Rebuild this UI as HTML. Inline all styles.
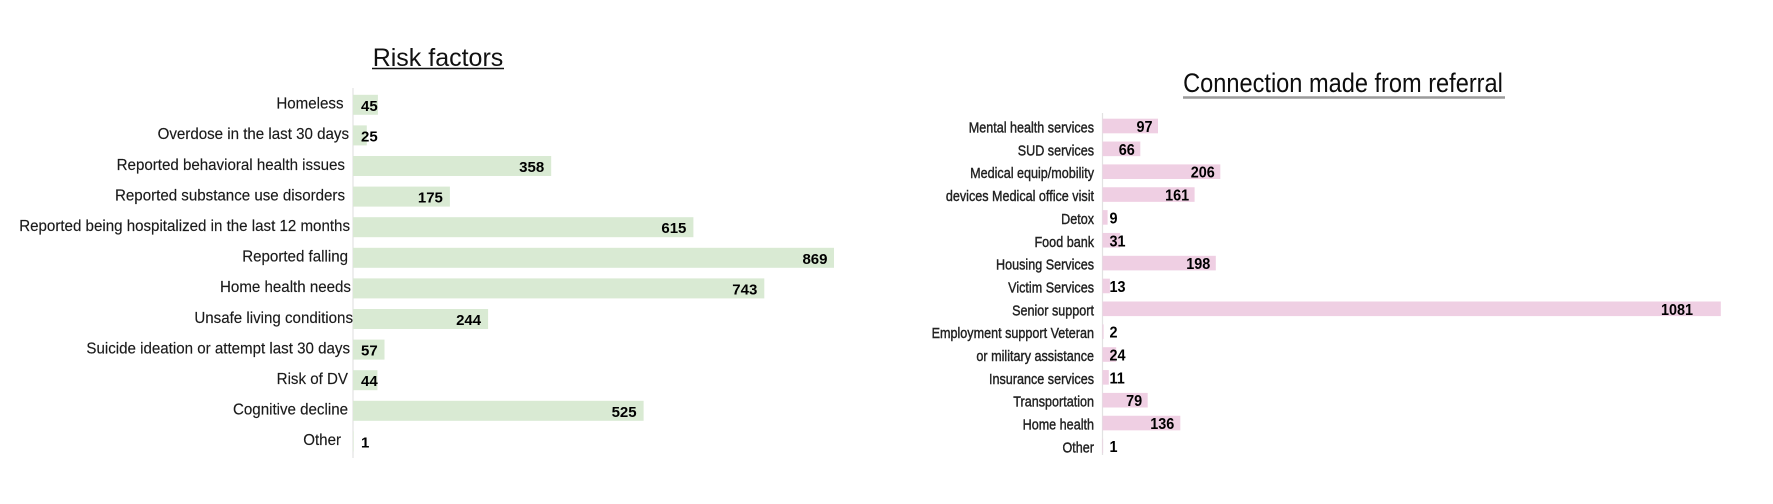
<!DOCTYPE html>
<html><head><meta charset="utf-8"><style>
html,body{margin:0;padding:0;background:#fff;}
svg{display:block;}
text{font-family:"Liberation Sans",Arial,sans-serif;}
</style></head><body>
<svg width="1773" height="504" viewBox="0 0 1773 504" xmlns="http://www.w3.org/2000/svg">
<rect width="1773" height="504" fill="#fff"/>

<!-- LEFT CHART -->
<text x="438" y="66" font-size="25" text-anchor="middle" fill="#111">Risk factors</text>
<line x1="372" y1="68.5" x2="504" y2="68.5" stroke="#111" stroke-width="1.5"/>
<line x1="353" y1="88" x2="353" y2="458" stroke="#e2e2e2" stroke-width="1.2"/>

<g fill="#d9ead3">
<rect x="353" y="94.8" width="24.9" height="20"/>
<rect x="353" y="125.4" width="13.8" height="20"/>
<rect x="353" y="156.0" width="198.2" height="20"/>
<rect x="353" y="186.6" width="96.9" height="20"/>
<rect x="353" y="217.2" width="340.4" height="20"/>
<rect x="353" y="247.8" width="481" height="20"/>
<rect x="353" y="278.4" width="411.3" height="20"/>
<rect x="353" y="309.0" width="135.1" height="20"/>
<rect x="353" y="339.6" width="31.5" height="20"/>
<rect x="353" y="370.2" width="24.4" height="20"/>
<rect x="353" y="400.8" width="290.6" height="20"/>
<rect x="353" y="431.4" width="0.6" height="20"/>
</g>

<g font-size="16" fill="#1a1a1a" text-anchor="end" stroke="#1a1a1a" stroke-width="0.15">
<text transform="translate(343.5,108.6) scale(0.945,1)">Homeless</text>
<text transform="translate(349,139.2) scale(0.945,1)">Overdose in the last 30 days</text>
<text transform="translate(345,169.8) scale(0.945,1)">Reported behavioral health issues</text>
<text transform="translate(345,200.4) scale(0.945,1)">Reported substance use disorders</text>
<text transform="translate(350,231.0) scale(0.945,1)">Reported being hospitalized in the last 12 months</text>
<text transform="translate(348,261.6) scale(0.945,1)">Reported falling</text>
<text transform="translate(351,292.2) scale(0.945,1)">Home health needs</text>
<text transform="translate(353,322.8) scale(0.945,1)">Unsafe living conditions</text>
<text transform="translate(350,353.4) scale(0.945,1)">Suicide ideation or attempt last 30 days</text>
<text transform="translate(348,384.0) scale(0.945,1)">Risk of DV</text>
<text transform="translate(348,414.6) scale(0.945,1)">Cognitive decline</text>
<text transform="translate(341,445.2) scale(0.945,1)">Other</text>
</g>

<g font-size="15" font-weight="bold" fill="#000">
<text x="361" y="110.8">45</text>
<text x="361" y="141.4">25</text>
<text x="544.2" y="172.0" text-anchor="end">358</text>
<text x="442.9" y="202.6" text-anchor="end">175</text>
<text x="686.4" y="233.2" text-anchor="end">615</text>
<text x="827.5" y="263.8" text-anchor="end">869</text>
<text x="757.3" y="294.4" text-anchor="end">743</text>
<text x="481.1" y="325.0" text-anchor="end">244</text>
<text x="361" y="355.6">57</text>
<text x="361" y="386.2">44</text>
<text x="636.6" y="416.8" text-anchor="end">525</text>
<text x="361" y="447.4">1</text>
</g>

<!-- RIGHT CHART -->
<text transform="translate(1343,92) scale(0.89,1)" font-size="26.5" text-anchor="middle" fill="#0d0d0d">Connection made from referral</text>
<line x1="1183" y1="97.5" x2="1505" y2="97.5" stroke="#9a9a9a" stroke-width="2.5"/>
<line x1="1102.5" y1="113" x2="1102.5" y2="455" stroke="#e2e2e2" stroke-width="1.2"/>

<g fill="#efcfe3">
<rect x="1102.5" y="118.7" width="55.5" height="14.6"/>
<rect x="1102.5" y="141.55" width="37.8" height="14.6"/>
<rect x="1102.5" y="164.4" width="117.8" height="14.6"/>
<rect x="1102.5" y="187.25" width="92.1" height="14.6"/>
<rect x="1102.5" y="210.1" width="5.1" height="14.6"/>
<rect x="1102.5" y="232.95" width="17.7" height="14.6"/>
<rect x="1102.5" y="255.8" width="113.3" height="14.6"/>
<rect x="1102.5" y="278.65" width="7.4" height="14.6"/>
<rect x="1102.5" y="301.5" width="618.3" height="14.6"/>
<rect x="1102.5" y="324.35" width="1.1" height="14.6"/>
<rect x="1102.5" y="347.2" width="13.7" height="14.6"/>
<rect x="1102.5" y="370.05" width="6.3" height="14.6"/>
<rect x="1102.5" y="392.9" width="45.2" height="14.6"/>
<rect x="1102.5" y="415.75" width="77.8" height="14.6"/>
<rect x="1102.5" y="438.6" width="0.6" height="14.6"/>
</g>

<g font-size="15" fill="#222" text-anchor="end" stroke="#222" stroke-width="0.4">
<text transform="translate(1094,132.5) scale(0.84,1)">Mental health services</text>
<text transform="translate(1094,155.35) scale(0.84,1)">SUD services</text>
<text transform="translate(1094,178.2) scale(0.84,1)">Medical equip/mobility</text>
<text transform="translate(1094,201.05) scale(0.84,1)">devices Medical office visit</text>
<text transform="translate(1094,223.9) scale(0.84,1)">Detox</text>
<text transform="translate(1094,246.75) scale(0.84,1)">Food bank</text>
<text transform="translate(1094,269.6) scale(0.84,1)">Housing Services</text>
<text transform="translate(1094,292.45) scale(0.84,1)">Victim Services</text>
<text transform="translate(1094,315.3) scale(0.84,1)">Senior support</text>
<text transform="translate(1094,338.15) scale(0.84,1)">Employment support Veteran</text>
<text transform="translate(1094,361.0) scale(0.84,1)">or military assistance</text>
<text transform="translate(1094,383.85) scale(0.84,1)">Insurance services</text>
<text transform="translate(1094,406.7) scale(0.84,1)">Transportation</text>
<text transform="translate(1094,429.55) scale(0.84,1)">Home health</text>
<text transform="translate(1094,452.4) scale(0.84,1)">Other</text>
</g>

<g font-size="16" font-weight="bold" fill="#000">
<text transform="translate(1152.5,132) scale(0.9,1)" text-anchor="end">97</text>
<text transform="translate(1134.8,154.85) scale(0.9,1)" text-anchor="end">66</text>
<text transform="translate(1214.8,177.7) scale(0.9,1)" text-anchor="end">206</text>
<text transform="translate(1189.1,200.55) scale(0.9,1)" text-anchor="end">161</text>
<text transform="translate(1109.5,223.4) scale(0.9,1)">9</text>
<text transform="translate(1109.5,246.25) scale(0.9,1)">31</text>
<text transform="translate(1210.3,269.1) scale(0.9,1)" text-anchor="end">198</text>
<text transform="translate(1109.5,291.95) scale(0.9,1)">13</text>
<text transform="translate(1693,314.8) scale(0.9,1)" text-anchor="end">1081</text>
<text transform="translate(1109.5,337.65) scale(0.9,1)">2</text>
<text transform="translate(1109.5,360.5) scale(0.9,1)">24</text>
<text transform="translate(1109.5,383.35) scale(0.9,1)">11</text>
<text transform="translate(1142.2,406.2) scale(0.9,1)" text-anchor="end">79</text>
<text transform="translate(1174.3,429.05) scale(0.9,1)" text-anchor="end">136</text>
<text transform="translate(1109.5,451.9) scale(0.9,1)">1</text>
</g>
</svg>
</body></html>
